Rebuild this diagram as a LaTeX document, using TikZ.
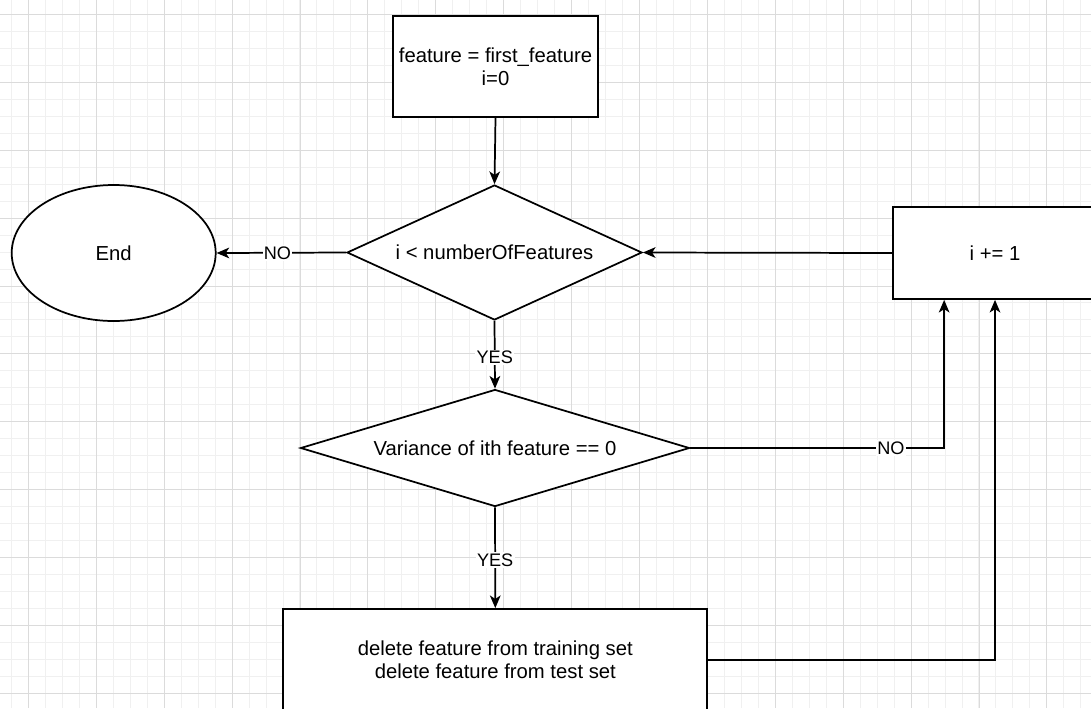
\documentclass[tikz,border=0pt]{standalone}
\usepackage{fontspec}
\setmainfont{Liberation Sans}
\usetikzlibrary{shapes.geometric,arrows.meta}

\begin{document}
\begin{tikzpicture}[x=0.75pt,y=-0.75pt,
  nodefont/.style={font=\fontsize{15.2}{17.25}\selectfont},
  outline/.style={draw=black, line width=1.3pt, fill=white, inner sep=0pt, align=center, nodefont},
  box/.style={outline, rectangle},
  decision/.style={outline, diamond},
  terminal/.style={outline, ellipse},
  flow/.style={draw=black, line width=1.3pt, -{Stealth[length=9.5pt,width=8pt,inset=2.6pt]}},
  lbl/.style={fill=white, inner sep=1pt, font=\fontsize{13.6}{15}\selectfont},
  minorgrid/.style={draw=black!6, line width=0.6pt},
  majorgrid/.style={draw=black!14, line width=0.6pt}
]
\clip (0,0) rectangle (1091,708);
\fill[white] (0,0) rectangle (1091,708);

% background grid
\foreach \k in {0,...,64} \draw[minorgrid] (11.3+16.975*\k,0) -- ++(0,708);
\foreach \k in {0,...,42} \draw[minorgrid] (0,14.3+16.975*\k) -- ++(1091,0);
\foreach \k in {0,...,15} \draw[majorgrid] (28.3+67.9*\k,0) -- ++(0,708);
\foreach \k in {0,...,10} \draw[majorgrid] (0,14.3+67.9*\k) -- ++(1091,0);

% nodes
\node[box, minimum width=153.75pt, minimum height=75.75pt] (init) at (495.5,66.5)
  {feature = first\_feature\\i=0};
\node[decision, shape aspect=2.2, minimum width=221.25pt, minimum height=101.25pt] (cond) at (494.5,252.5)
  {i {\char`\<} numberOfFeatures};
\node[terminal, minimum width=153pt, minimum height=102pt] (end) at (113.7,253) {End};
\node[box, minimum width=153pt, minimum height=69pt] (inc) at (995,253) {i += 1};
\node[decision, shape aspect=3.3, minimum width=291.75pt, minimum height=87.75pt] (var) at (495,448)
  {Variance of ith feature == 0};
\node[box, minimum width=318pt, minimum height=76.5pt] (del) at (495.3,660)
  {delete feature from training set\\delete feature from test set};

% connectors
\draw[flow] (init.south) -- (cond.north);
\draw[flow] (cond.west) -- node[lbl, pos=0.53] {NO} (end.east);
\draw[flow] (inc.west) -- (cond.east);
\draw[flow] (cond.south) -- node[lbl, pos=0.54] {YES} (var.north);
\draw[flow] (var.south) -- node[lbl, pos=0.52] {YES} (del.north);
\coordinate (incleft) at ([xshift=39pt]inc.south west);
\draw[flow] (var.east) -- node[lbl, pos=0.79] {NO} (var.east -| incleft) -- (incleft);
\draw[flow] (del.east) -| (inc.south);
\end{tikzpicture}
\end{document}
